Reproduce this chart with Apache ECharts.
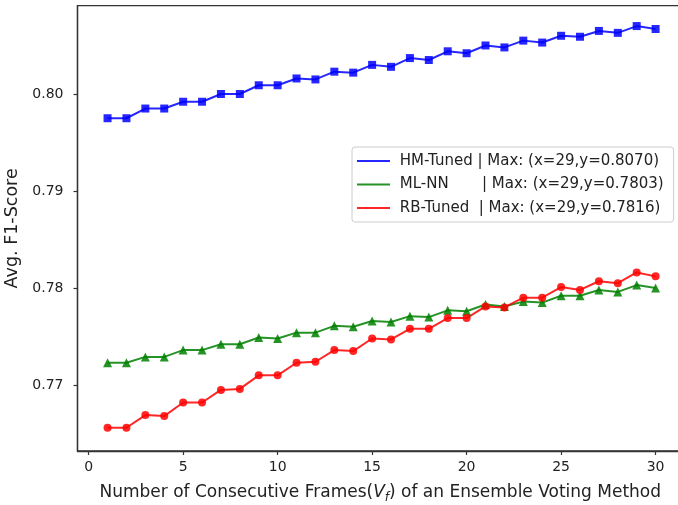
<!DOCTYPE html>
<html>
<head>
<meta charset="utf-8">
<script src="https://cdn.jsdelivr.net/npm/echarts@6/dist/echarts.min.js"></script>
<style>
html,body{margin:0;padding:0;background:#fff;}
#chart{width:678px;height:505px;}
</style>
</head>
<body>
<div id="chart"></div>
<script>
const frames = [1,2,3,4,5,6,7,8,9,10,11,12,13,14,15,16,17,18,19,20,21,22,23,24,25,26,27,28,29,30];
const hmTuned = [0.7975,0.7975,0.7985,0.7985,0.7992,0.7992,0.8000,0.8000,0.8009,0.8009,0.8016,0.8015,0.8023,0.8022,0.8030,0.8028,0.8037,0.8035,0.8044,0.8042,0.8050,0.8048,0.8055,0.8053,0.8060,0.8059,0.8065,0.8063,0.8070,0.8067];
const mlNN = [0.7723,0.7723,0.7729,0.7729,0.7736,0.7736,0.7742,0.7742,0.7749,0.7748,0.7754,0.7754,0.7761,0.7760,0.7766,0.7765,0.7771,0.7770,0.7777,0.7776,0.7783,0.7781,0.7786,0.7785,0.7792,0.7792,0.7798,0.7796,0.7803,0.7800];
const rbTuned = [0.7656,0.7656,0.7669,0.7668,0.7682,0.7682,0.7695,0.7696,0.7710,0.7710,0.7723,0.7724,0.7736,0.7735,0.7748,0.7747,0.7758,0.7758,0.7769,0.7769,0.7781,0.7780,0.7790,0.7790,0.7801,0.7798,0.7807,0.7805,0.7816,0.7812];
const xTicks = [0,5,10,15,20,25,30];
const yTicks = [0.77,0.78,0.79,0.80];
const seriesNames = ['HM-Tuned','ML-NN','RB-Tuned'];
const legendTexts = {
  'HM-Tuned': 'HM-Tuned | Max: (x=29,y=0.8070)',
  'ML-NN':    'ML-NN       | Max: (x=29,y=0.7803)',
  'RB-Tuned': 'RB-Tuned  | Max: (x=29,y=0.7816)'
};

const pairs = vals => frames.map((f,i)=>[f, vals[i]]);
const FONT = 'DejaVu Sans';
const axisColor = '#333';

const chart = echarts.init(document.getElementById('chart'), null, {renderer:'canvas'});
chart.setOption({
  animation:false,
  textStyle:{fontFamily:FONT},
  grid:{left:77.5, top:5.7, right:-5, bottom:54, outerBoundsMode:'none', containLabel:false,
        show:true, borderColor:axisColor, borderWidth:1.3, backgroundColor:'transparent'},
  legend:{
    orient:'vertical', left:352, top:147,
    data:seriesNames,
    icon:'rect', itemWidth:33, itemHeight:2, itemGap:5.5,
    padding:[5,10,5,5],
    backgroundColor:'#fff', borderColor:'#cccccc', borderWidth:1, borderRadius:3,
    textStyle:{fontFamily:FONT, fontSize:15, color:'#222', lineHeight:18},
    formatter: n => ' ' + legendTexts[n]
  },
  xAxis:{
    type:'value', min:-0.59, max:31.45,
    axisLine:{show:true, onZero:false, lineStyle:{color:axisColor, width:1.3}},
    axisTick:{show:true, length:4, lineStyle:{color:axisColor, width:1.2}, customValues:xTicks},
    axisLabel:{fontFamily:FONT, fontSize:14, color:'#222', margin:9, customValues:xTicks},
    splitLine:{show:false},
    name:'Number of Consecutive Frames({i|V}{sub|f}) of an Ensemble Voting Method',
    nameLocation:'middle', nameGap:33,
    nameTextStyle:{fontFamily:FONT, fontSize:17, color:'#222',
      rich:{
        i:{fontFamily:FONT, fontSize:17, fontStyle:'italic', color:'#222'},
        sub:{fontFamily:FONT, fontSize:12, fontStyle:'italic', color:'#222', verticalAlign:'bottom', padding:[0,0,-3,0]}
      }}
  },
  yAxis:{
    type:'value', min:0.7632, max:0.8091,
    axisLine:{show:true, onZero:false, lineStyle:{color:axisColor, width:1.3}},
    axisTick:{show:true, length:4, lineStyle:{color:axisColor, width:1.2}, customValues:yTicks},
    axisLabel:{fontFamily:FONT, fontSize:14, color:'#222', margin:14, customValues:yTicks, formatter:v=>v.toFixed(2)},
    splitLine:{show:false},
    name:'Avg. F1-Score', nameLocation:'middle', nameGap:51,
    nameTextStyle:{fontFamily:FONT, fontSize:17.5, color:'#222'}
  },
  series:[
    {name:'HM-Tuned', type:'line', data:pairs(hmTuned), symbol:'rect', symbolSize:8,
     lineStyle:{color:'#0000ff', width:2, opacity:0.85}, itemStyle:{color:'#0000ff', opacity:0.85}, color:'#0000ff'},
    {name:'ML-NN', type:'line', data:pairs(mlNN), symbol:'triangle', symbolSize:9,
     lineStyle:{color:'#008000', width:2, opacity:0.85}, itemStyle:{color:'#008000', opacity:0.85}, color:'#008000'},
    {name:'RB-Tuned', type:'line', data:pairs(rbTuned), symbol:'circle', symbolSize:8,
     lineStyle:{color:'#ff0000', width:2, opacity:0.85}, itemStyle:{color:'#ff0000', opacity:0.85}, color:'#ff0000'}
  ]
});
</script>
</body>
</html>
